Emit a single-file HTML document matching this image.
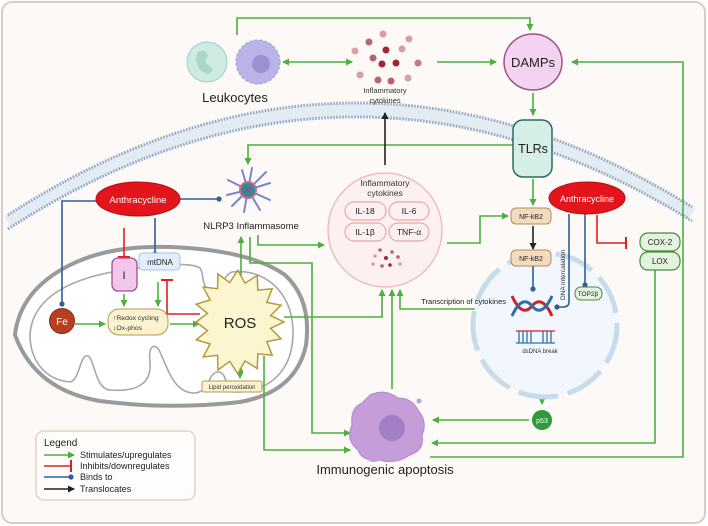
<!DOCTYPE html>
<html><head><meta charset="utf-8"><style>
body{margin:0;background:#fff}
svg{display:block;font-family:"Liberation Sans",sans-serif}
</style></head><body>
<svg width="708" height="526" viewBox="0 0 708 526" xmlns="http://www.w3.org/2000/svg">
<defs>
<marker id="g" markerWidth="8" markerHeight="8" refX="6" refY="4" orient="auto" markerUnits="userSpaceOnUse"><path d="M0,0.5 L7,4 L0,7.5Z" fill="#4caf3f"/></marker>
<marker id="gs" markerWidth="8" markerHeight="8" refX="1" refY="4" orient="auto" markerUnits="userSpaceOnUse"><path d="M7,0.5 L0,4 L7,7.5Z" fill="#4caf3f"/></marker>
<marker id="k" markerWidth="8" markerHeight="8" refX="6" refY="4" orient="auto" markerUnits="userSpaceOnUse"><path d="M0,0.5 L7,4 L0,7.5Z" fill="#222"/></marker>
<marker id="b" markerWidth="6" markerHeight="6" refX="3" refY="3" markerUnits="userSpaceOnUse"><circle cx="3" cy="3" r="2.6" fill="#2f5e9a"/></marker>
<marker id="r" markerWidth="4" markerHeight="12" refX="2" refY="6" orient="auto" markerUnits="userSpaceOnUse"><rect x="1" y="0" width="2" height="12" fill="#e02020"/></marker>
</defs>
<rect x="2" y="2" width="703" height="521" rx="10" fill="#fdf9f6" stroke="#dccbc2" stroke-width="2"/>

<!-- membrane -->
<path d="M8,222 Q350,2 692,214" fill="none" stroke="#e3ebf3" stroke-width="14"/>
<path d="M8,215 Q350,-5 692,207" fill="none" stroke="#8ea6c6" stroke-width="3" stroke-dasharray="1.5 1.5"/>
<path d="M8,229 Q350,9 692,221" fill="none" stroke="#8ea6c6" stroke-width="3" stroke-dasharray="1.5 1.5"/>

<!-- mitochondrion -->
<path d="M15,335 Q20,290 70,265 Q110,245 170,247 Q250,250 285,275 Q312,300 306,345 Q296,392 240,402 Q170,410 100,401 Q35,390 15,335Z" fill="#fff" stroke="#9a9a9a" stroke-width="4"/>
<path d="M30,335 C32,298 70,275 140,268 C170,265 190,262 200,268 C205,275 200,288 212,290 C222,292 222,276 232,272 C262,268 292,290 293,330 C294,370 270,392 235,392 C225,392 228,372 218,372 C208,372 210,392 195,393 C175,394 168,370 160,352 C155,342 148,345 150,362 C152,385 135,392 110,390 C95,389 95,360 88,356 C80,353 80,380 70,382 C45,380 30,360 30,335Z" fill="none" stroke="#a8a8a8" stroke-width="1.6"/>

<!-- connectors -->
<g fill="none" stroke="#4caf3f" stroke-width="1.6">
<path d="M237,35 V18 H530 V30" marker-end="url(#g)"/>
<path d="M283,62 H352" marker-end="url(#g)" marker-start="url(#gs)"/>
<path d="M437,62 H496" marker-end="url(#g)"/>
<path d="M430,457 H683 V62 H572" marker-end="url(#g)"/>
<path d="M533,93 V115" marker-end="url(#g)"/>
<path d="M513,145 H248 V164" marker-end="url(#g)"/>
<path d="M533,179 V205" marker-end="url(#g)"/>
<path d="M258,235 V245 H324" marker-end="url(#g)"/>
<path d="M250,237 V263 H312 V433 H350" marker-end="url(#g)"/>
<path d="M241,292 V237" marker-end="url(#g)"/>
<path d="M284,317 H382 V290" marker-end="url(#g)"/>
<path d="M264,356 V450 H350" marker-end="url(#g)"/>
<path d="M392,389 V290" marker-end="url(#g)"/>
<path d="M505,309 H400 V290" marker-end="url(#g)"/>
<path d="M447,243 H480 V216 H508" marker-end="url(#g)"/>
<path d="M655,270 V443 H432" marker-end="url(#g)"/>
<path d="M542,361 V404" marker-end="url(#g)"/>
<path d="M529,420 H433" marker-end="url(#g)"/>
<path d="M589,300 V340 H557" marker-end="url(#g)"/>
<path d="M569,300 V340"/>
<path d="M124,294 V306" marker-end="url(#g)"/>
<path d="M158,282 V306" marker-end="url(#g)"/>
<path d="M75,324 H105" marker-end="url(#g)"/>
<path d="M170,324 H199" marker-end="url(#g)"/>
<path d="M240,366 V378" marker-end="url(#g)" marker-start="url(#gs)"/>
</g>
<path d="M385,165 V113" stroke="#222" stroke-width="1.6" marker-end="url(#k)"/>
<path d="M533,226 V249" stroke="#222" stroke-width="1.6" marker-end="url(#k)"/>

<!-- leukocytes -->
<circle cx="207" cy="62" r="20" fill="#cfeae3" stroke="#9fd0c4"/>
<path d="M198,52 q8,-4 10,4 q-6,6 2,10 q6,4 -2,8 q-8,-2 -10,-8 q-4,-8 0,-14z" fill="#a8d6ca"/>
<circle cx="258" cy="62" r="22" fill="#b9b3e8" stroke="#a59fdc" stroke-dasharray="3 2"/>
<circle cx="261" cy="64" r="9" fill="#9c91cf"/>
<text x="235" y="102" font-size="13" text-anchor="middle" fill="#222">Leukocytes</text>

<!-- cytokine dots -->
<g>
<circle cx="383" cy="34" r="3.5" fill="#d99ea3"/><circle cx="369" cy="42" r="3.5" fill="#b9636a"/><circle cx="409" cy="39" r="3.5" fill="#d99ea3"/>
<circle cx="355" cy="51" r="3.5" fill="#d9a0a5"/><circle cx="386" cy="50" r="3.5" fill="#a3262f"/><circle cx="402" cy="49" r="3.5" fill="#d99ea3"/>
<circle cx="373" cy="58" r="3.5" fill="#b9636a"/><circle cx="382" cy="64" r="3.5" fill="#a3262f"/><circle cx="396" cy="63" r="3.5" fill="#a3262f"/><circle cx="418" cy="63" r="3.5" fill="#c9777d"/>
<circle cx="360" cy="75" r="3.5" fill="#d99ea3"/><circle cx="378" cy="80" r="3.5" fill="#b9636a"/><circle cx="391" cy="81" r="3.5" fill="#b9636a"/><circle cx="408" cy="78" r="3.5" fill="#d99ea3"/>
</g>
<text font-size="7.5" text-anchor="middle" fill="#333"><tspan x="385" y="93">Inflammatory</tspan><tspan x="385" y="103">cytokines</tspan></text>

<!-- DAMPs, TLRs -->
<ellipse cx="533" cy="62" rx="29" ry="28" fill="#f3d3f0" stroke="#a0508f" stroke-width="1.5"/>
<text x="533" y="67" font-size="13" text-anchor="middle" fill="#222">DAMPs</text>
<rect x="513" y="120" width="39" height="57" rx="10" fill="#d6eee8" stroke="#2c6b5c" stroke-width="1.5"/>
<text x="533" y="153" font-size="12.5" text-anchor="middle" fill="#222">TLRs</text>

<!-- anthracycline left -->
<g stroke="#2f5e9a" stroke-width="1.6" fill="none">
<path d="M180,199 H219" marker-end="url(#b)"/>
<path d="M97,201 H62 V304" marker-end="url(#b)"/>
<path d="M155,218 V254" marker-end="url(#b)"/>
</g>
<path d="M124,228 V257" stroke="#e02020" stroke-width="1.6" marker-end="url(#r)"/>
<path d="M200,314 H167 V280" stroke="#e02020" stroke-width="1.6" fill="none" marker-end="url(#r)"/>
<ellipse cx="138" cy="199" rx="42" ry="17" fill="#e3141b" stroke="#b30f14"/>
<text x="138" y="203" font-size="9.5" text-anchor="middle" fill="#fff">Anthracycline</text>

<rect x="112" y="258" width="25" height="33" rx="6" fill="#f1c6ea" stroke="#a0508f" stroke-width="1.3"/>
<text x="124" y="279" font-size="11" text-anchor="middle" fill="#222">I</text>
<rect x="139" y="253" width="41" height="17" rx="4" fill="#e3eefb" stroke="#a8c2e4"/>
<text x="160" y="265" font-size="8" text-anchor="middle" fill="#222">mtDNA</text>
<circle cx="62" cy="321" r="12.5" fill="#b5401f" stroke="#8a2e14"/>
<text x="62" y="325" font-size="10" text-anchor="middle" fill="#fff">Fe</text>
<rect x="108" y="309" width="60" height="26" rx="11" fill="#fbf3cf" stroke="#b59a4a"/>
<text font-size="6.8" fill="#333"><tspan x="113" y="320">↑Redox cycling</tspan><tspan x="113" y="330">↓Ox-phos</tspan></text>

<!-- ROS star -->
<polygon fill="#fbf6d0" stroke="#b59a3a" stroke-width="1.5" points="284.0,322.0 270.6,328.4 281.0,338.8 266.8,341.6 272.2,355.3 257.8,353.8 257.3,368.5 245.0,360.9 237.7,373.7 229.8,361.4 217.9,370.0 217.6,355.3 203.2,357.0 210.1,344.0 196.3,339.8 207.5,330.6 196.0,322.0 207.5,313.4 196.3,304.2 210.1,300.0 203.2,287.0 217.6,288.7 217.9,274.0 229.8,282.6 237.7,270.3 245.0,283.1 257.3,275.5 257.8,290.2 272.2,288.7 266.8,302.4 281.0,305.2 270.6,315.6"/>
<text x="240" y="328" font-size="15" text-anchor="middle" fill="#222">ROS</text>
<rect x="202" y="381" width="60" height="11" rx="2" fill="#fbf3cf" stroke="#b59a4a"/>
<text x="232" y="389" font-size="6" text-anchor="middle" fill="#333">Lipid peroxidation</text>

<!-- NLRP3 -->
<g stroke-width="2" stroke-linecap="round" stroke="#7a86c8">
<line x1="248" y1="190" x2="270" y2="183"/><line x1="248" y1="190" x2="228" y2="180"/><line x1="248" y1="190" x2="242" y2="170"/><line x1="248" y1="190" x2="260" y2="210"/><line x1="248" y1="190" x2="232" y2="206"/><line x1="248" y1="190" x2="266" y2="172"/><line x1="248" y1="190" x2="227" y2="195"/><line x1="248" y1="190" x2="270" y2="200"/><line x1="248" y1="190" x2="252" y2="168"/><line x1="248" y1="190" x2="244" y2="212"/>
</g>
<circle cx="248" cy="190" r="8" fill="#2d8c8c" stroke="#d06a8a" stroke-width="2"/>
<circle cx="248" cy="190" r="3" fill="#7a5aa0"/>
<text x="251" y="229" font-size="9.5" text-anchor="middle" fill="#222">NLRP3 Inflammasome</text>

<!-- inflammatory circle -->
<circle cx="385" cy="230" r="57" fill="#fdf0f0" stroke="#f0b5b5" stroke-width="1.3"/>
<text font-size="8.5" text-anchor="middle" fill="#333"><tspan x="385" y="186">Inflammatory</tspan><tspan x="385" y="196">cytokines</tspan></text>
<g fill="#fdf0f0" stroke="#eaa7a7" stroke-width="1.2">
<rect x="345" y="202" width="41" height="18" rx="9"/><rect x="389" y="202" width="40" height="18" rx="9"/>
<rect x="345" y="223" width="41" height="18" rx="9"/><rect x="389" y="223" width="40" height="18" rx="9"/>
</g>
<g font-size="8.5" text-anchor="middle" fill="#222">
<text x="365" y="214">IL-18</text><text x="409" y="214">IL-6</text><text x="365" y="235">IL-1β</text><text x="409" y="235">TNF-α</text>
</g>
<g fill="#b9636a"><circle cx="380" cy="250" r="1.8"/><circle cx="392" cy="252" r="1.8"/><circle cx="375" cy="256" r="1.8" fill="#d99ea3"/><circle cx="386" cy="258" r="2" fill="#a3262f"/><circle cx="398" cy="257" r="1.8"/><circle cx="373" cy="264" r="1.8" fill="#d99ea3"/><circle cx="382" cy="266" r="1.8"/><circle cx="390" cy="265" r="1.8" fill="#a3262f"/><circle cx="400" cy="264" r="1.8" fill="#d99ea3"/></g>

<!-- nucleus -->
<circle cx="545" cy="325" r="72" fill="#f1f7fc" stroke="#c6dbeb" stroke-width="5" stroke-dasharray="40 10"/>
<rect x="511" y="208" width="40" height="16" rx="5" fill="#f2dcc0" stroke="#b58a5a"/>
<text x="531" y="219" font-size="7" text-anchor="middle" fill="#222">NF-kB2</text>
<rect x="511" y="250" width="40" height="16" rx="5" fill="#f2dcc0" stroke="#b58a5a"/>
<text x="531" y="261" font-size="7" text-anchor="middle" fill="#222">NF-kB2</text>
<path d="M533,266 V289" stroke="#2f5e9a" stroke-width="1.6" marker-end="url(#b)"/>
<path d="M512,296 Q522,318 532,306 Q542,294 552,316" fill="none" stroke="#d0202a" stroke-width="3"/>
<path d="M512,316 Q522,294 532,306 Q542,318 552,296" fill="none" stroke="#2f6fa8" stroke-width="3"/>
<text x="506" y="304" font-size="7.5" text-anchor="end" fill="#222">Transcription of cytokines</text>
<g stroke="#2f6fa8" stroke-width="1.3"><line x1="516" y1="331" x2="555" y2="331" stroke="#d0202a"/><line x1="516" y1="343" x2="555" y2="343"/>
<line x1="519" y1="331" x2="519" y2="343"/><line x1="523" y1="331" x2="523" y2="343"/><line x1="527" y1="331" x2="527" y2="343"/><line x1="531" y1="331" x2="531" y2="343"/><line x1="543" y1="331" x2="543" y2="343"/><line x1="547" y1="331" x2="547" y2="343"/><line x1="551" y1="331" x2="551" y2="343"/></g>
<text x="540" y="353" font-size="6" text-anchor="middle" fill="#333">dsDNA break</text>

<!-- anthracycline right -->
<g stroke="#2f5e9a" stroke-width="1.6" fill="none">
<path d="M569,214 V302 Q569,307 563,307 H557" marker-end="url(#b)"/>
<path d="M585,214 V285" marker-end="url(#b)"/>
</g>
<text transform="translate(565,300) rotate(-90)" font-size="6.5" fill="#333">DNA intercalation</text>
<path d="M597,215 V243 H626" stroke="#e02020" stroke-width="1.6" fill="none" marker-end="url(#r)"/>
<ellipse cx="587" cy="198" rx="38" ry="16" fill="#e3141b" stroke="#b30f14"/>
<text x="587" y="202" font-size="9" text-anchor="middle" fill="#fff">Anthracycline</text>
<rect x="575" y="287" width="27" height="13" rx="6" fill="#e3f3df" stroke="#4a8a3a"/>
<text x="588" y="296" font-size="6.5" text-anchor="middle" fill="#222">TOP2β</text>
<rect x="640" y="233" width="40" height="18" rx="8" fill="#e3f3df" stroke="#4a8a3a" stroke-width="1.2"/>
<rect x="640" y="252" width="40" height="18" rx="8" fill="#e3f3df" stroke="#4a8a3a" stroke-width="1.2"/>
<text x="660" y="245" font-size="8" text-anchor="middle" fill="#222">COX-2</text>
<text x="660" y="264" font-size="8" text-anchor="middle" fill="#222">LOX</text>

<circle cx="542" cy="420" r="10" fill="#2f9a3a"/>
<text x="542" y="423" font-size="7" text-anchor="middle" fill="#fff">p53</text>

<!-- apoptosis cell -->
<path d="M370,395 Q385,388 398,398 Q412,398 418,410 Q428,422 422,435 Q425,450 410,455 Q395,465 380,460 Q362,462 358,450 Q345,440 352,425 Q350,408 362,403Z" fill="#c59dd9" stroke="#b089cc"/>
<ellipse cx="362" cy="411" rx="6" ry="3" fill="#c59dd9"/><ellipse cx="374" cy="459" rx="6" ry="3" fill="#c59dd9"/><circle cx="419" cy="401" r="2.5" fill="#c59dd9"/>
<ellipse cx="392" cy="428" rx="13" ry="13" fill="#a37fc5"/>
<text x="385" y="474" font-size="13" text-anchor="middle" fill="#222">Immunogenic apoptosis</text>

<!-- legend -->
<rect x="36" y="431" width="159" height="69" rx="8" fill="#fffdfb" stroke="#e6d0c8" stroke-width="1.5"/>
<text x="44" y="446" font-size="10" fill="#222">Legend</text>
<g stroke-width="1.6">
<line x1="44" y1="455" x2="74" y2="455" stroke="#4caf3f" marker-end="url(#g)"/>
<line x1="44" y1="466" x2="71" y2="466" stroke="#e02020" marker-end="url(#r)"/>
<line x1="44" y1="477" x2="71" y2="477" stroke="#2f5e9a" marker-end="url(#b)"/>
<line x1="44" y1="489" x2="74" y2="489" stroke="#222" marker-end="url(#k)"/>
</g>
<g font-size="9" fill="#222">
<text x="80" y="458">Stimulates/upregulates</text>
<text x="80" y="469">Inhibits/downregulates</text>
<text x="80" y="480">Binds to</text>
<text x="80" y="492">Translocates</text>
</g>
</svg>
</body></html>
